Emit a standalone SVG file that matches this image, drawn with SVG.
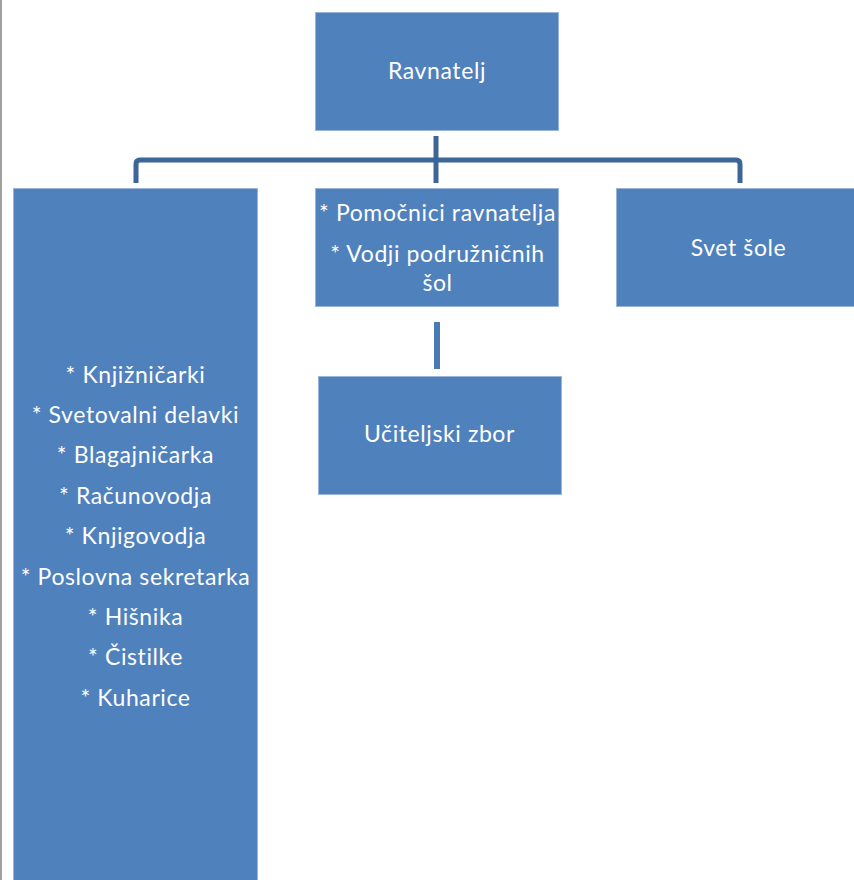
<svg xmlns="http://www.w3.org/2000/svg" width="854" height="880" viewBox="0 0 854 880">
  <style>
    .box { fill: #4F81BD; stroke: #9BB5DA; stroke-width: 1; }
    .t { font-family: Lato, "Open Sans", sans-serif; font-size: 23px; letter-spacing: 0.6px; fill: #FFFFFF; text-anchor: middle; }
    .conn { fill: none; stroke: #3C6598; stroke-width: 5; stroke-linejoin: round; }
  </style>
  <rect x="0" y="0" width="854" height="880" fill="#FFFFFF"/>
  <rect x="0" y="0" width="2" height="880" fill="#A0A0A0"/>
  <g id="connectors">
    <path class="conn" d="M436,136 V183"/>
    <path class="conn" d="M136,183 V164 Q136,160 140,160 H736 Q740,160 740,164 V183"/>
    <rect x="434" y="322" width="6" height="47" fill="#4A7BB5"/>
  </g>
  <g id="ravnatelj">
    <rect class="box" x="315.5" y="12.5" width="243" height="118"/>
    <text class="t" x="437" y="79">Ravnatelj</text>
  </g>
  <g id="osebje">
    <rect class="box" x="13.5" y="188.5" width="244" height="700"/>
    <text class="t" x="135.5" y="382.5">* Knjižničarki</text>
    <text class="t" x="135.5" y="422.9">* Svetovalni delavki</text>
    <text class="t" x="135.5" y="463.3">* Blagajničarka</text>
    <text class="t" x="135.5" y="503.7">* Računovodja</text>
    <text class="t" x="135.5" y="544.1">* Knjigovodja</text>
    <text class="t" x="135.5" y="584.5">* Poslovna sekretarka</text>
    <text class="t" x="135.5" y="624.9">* Hišnika</text>
    <text class="t" x="135.5" y="665.3">* Čistilke</text>
    <text class="t" x="135.5" y="705.7">* Kuharice</text>
  </g>
  <g id="pomocniki">
    <rect class="box" x="315.5" y="188.5" width="243" height="118"/>
    <text class="t" x="437.5" y="221">* Pomočnici ravnatelja</text>
    <text class="t" x="437.5" y="261.5">* Vodji podružničnih</text>
    <text class="t" x="437.5" y="290.5">šol</text>
  </g>
  <g id="svet">
    <rect class="box" x="616.5" y="188.5" width="245" height="118"/>
    <text class="t" x="738.5" y="256">Svet šole</text>
  </g>
  <g id="ucitelji">
    <rect class="box" x="318.5" y="376.5" width="243" height="118"/>
    <text class="t" x="439.5" y="442">Učiteljski zbor</text>
  </g>
</svg>
